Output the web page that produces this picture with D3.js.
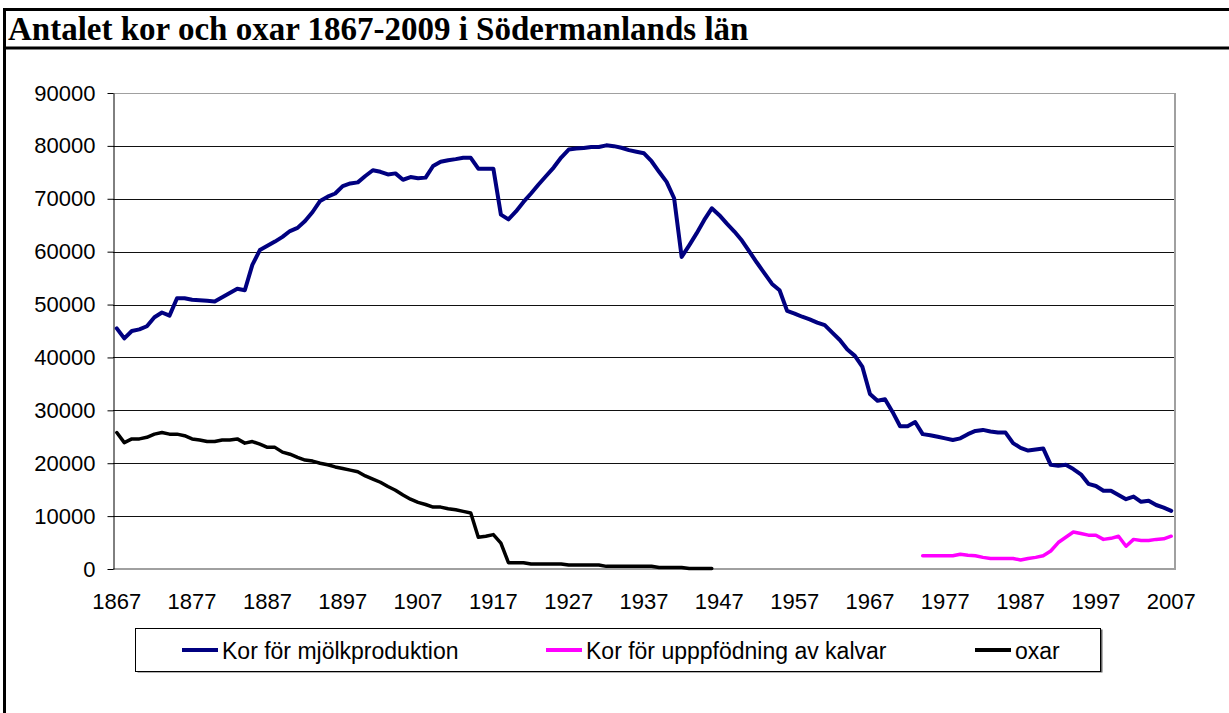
<!DOCTYPE html>
<html>
<head>
<meta charset="utf-8">
<script src="https://cdn.jsdelivr.net/npm/d3@7/dist/d3.min.js"></script>
<style>
  html, body { margin: 0; padding: 0; background: #fff; }
  svg { display: block; }
  text { font-family: "Liberation Sans", Arial, sans-serif; fill: #000; }
</style>
</head>
<body>
<div id="chart"></div>
<script>
// categories (one per year) and axis labels
const years = d3.range(1867, 2008);
const tickYears = [1867, 1877, 1887, 1897, 1907, 1917, 1927, 1937, 1947, 1957, 1967, 1977, 1987, 1997, 2007];
const yTicks = [0, 10000, 20000, 30000, 40000, 50000, 60000, 70000, 80000, 90000];
const titleText = "Antalet kor och oxar 1867-2009 i Södermanlands län";
const seriesNames = ["Kor för mjölkproduktion", "Kor för upppfödning av kalvar", "oxar"];

// Kor för mjölkproduktion, 1867-2007
const mjolk = [
  45500, 43600, 45000, 45300, 45900, 47600, 48500, 47900, 51200, 51200,
  50900, 50800, 50700, 50600, 51400, 52200, 53000, 52700, 57500, 60300,
  61100, 61900, 62800, 63900, 64500, 65800, 67500, 69600, 70400, 71000,
  72400, 72900, 73100, 74300, 75400, 75100, 74600, 74800, 73600, 74100,
  73900, 74000, 76200, 77000, 77300, 77500, 77750, 77750, 75700, 75700,
  75700, 67000, 66100, 67600, 69400, 71000, 72700, 74300, 75900, 77800,
  79300, 79500, 79600, 79800, 79800, 80100, 79950, 79650, 79200, 78900,
  78600, 77100, 75100, 73200, 70100, 59000, 61200, 63500, 66000, 68200,
  66900, 65300, 63800, 62100, 60000, 57900, 55900, 53900, 52700, 48800,
  48300, 47700, 47200, 46600, 46100, 44700, 43300, 41500, 40300, 38200,
  33100, 31800, 32100, 29700, 27000, 27000, 27800, 25500, 25300, 25000,
  24700, 24400, 24700, 25500, 26100, 26300, 26000, 25800, 25800, 23800,
  22900, 22400, 22600, 22800, 19700, 19500, 19700, 18900, 17900, 16100,
  15700, 14800, 14800, 14000, 13200, 13700, 12700, 12900, 12100, 11600,
  11000
];

// Kor för upppfödning av kalvar, 1974-2007
const kalvarStart = 1974;
const kalvar = [
  2500, 2500, 2500, 2500, 2500, 2800, 2600, 2500, 2200, 2000,
  2000, 2000, 2000, 1700, 2000, 2200, 2500, 3400, 5000, 6000,
  7000, 6700, 6400, 6400, 5600, 5800, 6200, 4300, 5600, 5400,
  5400, 5600, 5700, 6200
];

// oxar, 1867-1946
const oxarStart = 1867;
const oxar = [
  25800, 23900, 24600, 24600, 24900, 25500, 25800, 25500, 25500, 25200,
  24600, 24400, 24100, 24100, 24400, 24400, 24600, 23800, 24100, 23600,
  23000, 23000, 22100, 21700, 21100, 20600, 20400, 20000, 19700, 19300,
  19000, 18700, 18400, 17600, 17000, 16400, 15600, 14900, 14000, 13200,
  12600, 12200, 11700, 11700, 11400, 11200, 10900, 10600, 6000, 6200,
  6500, 4900, 1200, 1200, 1200, 950, 950, 950, 950, 950,
  750, 750, 750, 750, 750, 500, 500, 500, 500, 500,
  500, 500, 300, 300, 300, 300, 100, 100, 100, 100
];

const colors = ["#000080", "#ff00ff", "#000000"];

const width = 1229, height = 713;
const plot = { left: 113, right: 1175, top: 93, bottom: 569 };

const svg = d3.select("#chart").append("svg")
  .attr("width", width)
  .attr("height", height);

// outer frame with title row
const frame = svg.append("g").attr("class", "frame");
frame.append("line").attr("x1", 4.5).attr("x2", 4.5).attr("y1", 8).attr("y2", height)
  .attr("stroke", "#000").attr("stroke-width", 3);
frame.append("line").attr("x1", 3).attr("x2", width).attr("y1", 9.5).attr("y2", 9.5)
  .attr("stroke", "#000").attr("stroke-width", 3);
frame.append("line").attr("x1", 3).attr("x2", width).attr("y1", 48).attr("y2", 48)
  .attr("stroke", "#000").attr("stroke-width", 3);

frame.append("text")
  .attr("x", 8)
  .attr("y", 40)
  .style("font-family", "'Liberation Serif', 'Times New Roman', serif")
  .style("font-weight", "bold")
  .style("font-size", "33px")
  .text(titleText);

const x = d3.scaleBand().domain(years).range([plot.left, plot.right]);
const xc = yr => x(yr) + x.bandwidth() / 2;
const y = d3.scaleLinear().domain([0, 90000]).range([plot.bottom, plot.top]);

// gridlines
svg.append("g").attr("class", "grid")
  .selectAll("line")
  .data(yTicks.filter(t => t > 0 && t < 90000))
  .join("line")
  .attr("x1", plot.left).attr("x2", plot.right)
  .attr("y1", d => Math.round(y(d)) + 0.5)
  .attr("y2", d => Math.round(y(d)) + 0.5)
  .attr("stroke", "#111")
  .attr("stroke-width", 1);

// plot area border (grey)
const border = svg.append("g").attr("class", "plotBorder");
border.append("line").attr("x1", plot.left).attr("x2", plot.right)
  .attr("y1", plot.top + 0.5).attr("y2", plot.top + 0.5)
  .attr("stroke", "#a0a0a0").attr("stroke-width", 1);
border.append("line").attr("x1", plot.right).attr("x2", plot.right)
  .attr("y1", plot.top).attr("y2", plot.bottom + 1)
  .attr("stroke", "#a0a0a0").attr("stroke-width", 2);
border.append("line").attr("x1", plot.left).attr("x2", plot.right + 1)
  .attr("y1", plot.bottom).attr("y2", plot.bottom)
  .attr("stroke", "#a0a0a0").attr("stroke-width", 2);

// y axis
const yAxisG = svg.append("g").attr("class", "yAxisG")
  .attr("transform", `translate(${plot.left + 0.5},0)`)
  .call(d3.axisLeft(y).tickValues(yTicks).tickSize(6).tickSizeOuter(0).tickPadding(12)
    .tickFormat(d3.format("d")));
yAxisG.select(".domain").attr("stroke", "#000");
yAxisG.selectAll(".tick line").attr("stroke", "#000");
yAxisG.selectAll("text")
  .style("font-size", "22px")
  .style("font-family", "'Liberation Sans', Arial, sans-serif");

// x axis labels
const xAxisG = svg.append("g").attr("class", "xAxisG")
  .attr("transform", `translate(0,${plot.bottom})`)
  .call(d3.axisBottom(x).tickValues(tickYears).tickSize(0).tickFormat(d3.format("d")));
xAxisG.select(".domain").remove();
xAxisG.selectAll("text")
  .attr("y", 40)
  .attr("dy", 0)
  .style("font-size", "22px")
  .style("font-family", "'Liberation Sans', Arial, sans-serif");

// series
const toPoints = (start, values) => values.map((v, i) => ({ year: start + i, v }));
const series = [
  toPoints(years[0], mjolk),
  toPoints(kalvarStart, kalvar),
  toPoints(oxarStart, oxar)
];

const line = d3.line()
  .defined(d => d.v != null)
  .x(d => xc(d.year))
  .y(d => y(d.v));

svg.append("g").attr("class", "lines")
  .selectAll("path")
  .data(series)
  .join("path")
  .attr("d", line)
  .attr("fill", "none")
  .attr("stroke", (d, i) => colors[i])
  .attr("stroke-width", (d, i) => i === 0 ? 4 : 3.5)
  .attr("stroke-linejoin", "round")
  .attr("stroke-linecap", "round");

// legend
const legend = svg.append("g").attr("class", "legend");
legend.append("rect")
  .attr("x", 137.5).attr("y", 629.5).attr("width", 965).attr("height", 43)
  .attr("fill", "#666");
legend.append("rect")
  .attr("x", 135.5).attr("y", 628.5).attr("width", 965).attr("height", 43)
  .attr("fill", "#fff").attr("stroke", "#000").attr("stroke-width", 1);

const legendX = [182, 546, 975];
const item = legend.selectAll(".legendItem")
  .data(seriesNames)
  .join("g")
  .attr("class", "legendItem")
  .attr("transform", (d, i) => `translate(${legendX[i]},650)`);
item.append("line")
  .attr("x1", 0).attr("x2", 36).attr("y1", 0).attr("y2", 0)
  .attr("stroke", (d, i) => colors[i])
  .attr("stroke-width", 4);
item.append("text")
  .attr("x", 40)
  .attr("y", 9)
  .style("font-size", "23px")
  .text(d => d);
</script>
</body>
</html>
